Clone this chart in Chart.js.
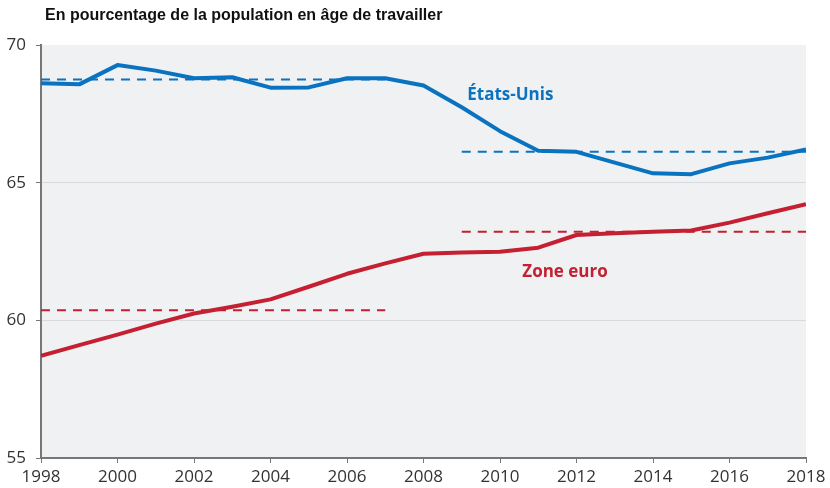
<!DOCTYPE html>
<html><head><meta charset="utf-8">
<script src="https://cdn.jsdelivr.net/npm/chart.js@4/dist/chart.umd.min.js"></script>
<style>html,body{margin:0;padding:0;background:#fff}#wrap{width:830px;height:488px}</style>
</head><body><div id="wrap"><canvas id="c" width="830" height="488"></canvas></div>
<script>
const years = [1998,1999,2000,2001,2002,2003,2004,2005,2006,2007,2008,2009,2010,2011,2012,2013,2014,2015,2016,2017,2018];
const usValues = [68.61,68.57,69.27,69.07,68.79,68.83,68.45,68.46,68.79,68.79,68.53,67.74,66.87,66.16,66.12,65.73,65.34,65.31,65.70,65.91,66.21];
const euroValues = [58.71,59.10,59.48,59.88,60.25,60.49,60.76,61.22,61.69,62.07,62.42,62.46,62.49,62.64,63.10,63.16,63.22,63.26,63.55,63.89,64.22];
const usAvgYears = [1998,2007]; const usAvg1 = 68.75;
const usAvgYears2 = [2009,2018]; const usAvg2 = 66.12;
const euroAvgYears = [1998,2007]; const euroAvg1 = 60.37;
const euroAvgYears2 = [2009,2018]; const euroAvg2 = 63.22;
const yTicks = [55,60,65,70];
const xTicks = [1998,2000,2002,2004,2006,2008,2010,2012,2014,2016,2018];
const title = "En pourcentage de la population en âge de travailler";
const labelUS = {text:"États-Unis", x:2010.27, y:68.18};
const labelEuro = {text:"Zone euro", x:2011.7, y:61.75};

const BLUE = "#0a73c0", RED = "#c42032";
const pts = (xs, ys) => xs.map((x,i)=>({x, y: ys[i]}));
const flat = (xs, v) => xs.map(x=>({x, y:v}));

const bgPlugin = {
  id:'bg',
  beforeDraw(chart){
    const {ctx, chartArea:a} = chart;
    ctx.save(); ctx.fillStyle = "#f0f1f3";
    ctx.fillRect(a.left, a.top, a.right-a.left, a.bottom-a.top);
    ctx.restore();
  },
  afterDraw(chart){
    const {ctx, scales} = chart;
    ctx.save();
    ctx.font = "bold 16px 'Liberation Sans', Arial, sans-serif";
    ctx.fillStyle = "#111"; ctx.textBaseline = "middle"; ctx.textAlign = "left";
    ctx.fillText(title, 45, 16);
    ctx.font = "bold 17px 'Open Sans', 'Liberation Sans', sans-serif";
    ctx.textAlign = "center";
    ctx.fillStyle = BLUE;
    ctx.fillText(labelUS.text, scales.x.getPixelForValue(labelUS.x), scales.y.getPixelForValue(labelUS.y));
    ctx.fillStyle = RED;
    ctx.fillText(labelEuro.text, scales.x.getPixelForValue(labelEuro.x), scales.y.getPixelForValue(labelEuro.y));
    ctx.restore();
  }
};

new Chart(document.getElementById('c'), {
  type:'line',
  data:{datasets:[
    {data:flat(usAvgYears, usAvg1), borderColor:BLUE, borderWidth:2, borderDash:[9,7], pointRadius:0, order:3},
    {data:flat(usAvgYears2, usAvg2), borderColor:BLUE, borderWidth:2, borderDash:[9,7], pointRadius:0, order:3},
    {data:flat(euroAvgYears, euroAvg1), borderColor:RED, borderWidth:2, borderDash:[9,7], pointRadius:0, order:3},
    {data:flat(euroAvgYears2, euroAvg2), borderColor:RED, borderWidth:2, borderDash:[9,7], pointRadius:0, order:3},
    {data:pts(years, usValues), borderColor:BLUE, borderWidth:4, pointRadius:0, order:1, borderJoinStyle:'round'},
    {data:pts(years, euroValues), borderColor:RED, borderWidth:4, pointRadius:0, order:1, borderJoinStyle:'round'}
  ]},
  options:{
    responsive:false, animation:false, devicePixelRatio:1,
    layout:{padding:{top:45, right:24, left:0, bottom:0}},
    plugins:{legend:{display:false}, tooltip:{enabled:false}},
    elements:{line:{tension:0, borderCapStyle:'butt'}},
    scales:{
      x:{type:'linear', min:1998, max:2018,
        afterBuildTicks(s){ s.ticks = xTicks.map(v=>({value:v})); },
        afterFit(s){ s.height = 30; },
        grid:{drawOnChartArea:false, tickLength:5, tickColor:'#777', tickWidth:1},
        border:{color:'#777', width:2},
        ticks:{color:'#333', padding:4, maxRotation:0, autoSkip:false,
          font:{family:"'Open Sans', 'Liberation Sans', sans-serif", size:17},
          callback:v=>String(v)}
      },
      y:{min:55, max:70,
        afterBuildTicks(s){ s.ticks = yTicks.map(v=>({value:v})); },
        afterFit(s){ s.width = 41; },
        grid:{color:(c)=> (c.tick && (c.tick.value===55||c.tick.value===70)) ? 'rgba(0,0,0,0)' : '#d8d9dc', lineWidth:1, tickLength:5, tickColor:'#777'},
        border:{color:'#777', width:2},
        ticks:{color:'#333', padding:10, font:{family:"'Open Sans', 'Liberation Sans', sans-serif", size:17}}
      }
    }
  },
  plugins:[bgPlugin]
});
</script></body></html>
